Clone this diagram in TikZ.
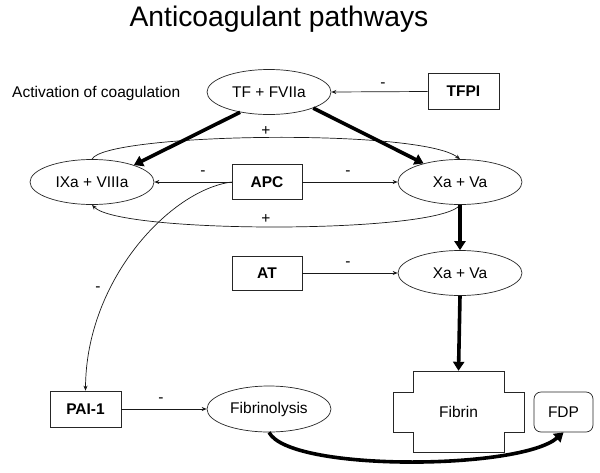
\documentclass[tikz,border=0pt]{standalone}
\usepackage{fontspec}
\setmainfont{Liberation Sans}
\usetikzlibrary{arrows.meta,shapes.geometric}
\tikzset{
  oval/.style={draw=black!85, line width=0.7pt, ellipse, minimum width=124pt, minimum height=45pt, inner sep=0pt, font=\fontsize{15.5}{18}\selectfont},
  rbox/.style={draw=black!85, line width=0.7pt, rectangle, minimum width=70pt, minimum height=35pt, inner sep=0pt, font=\fontsize{15.5}{18}\selectfont\bfseries},
  thinarr/.style={draw=black!90, line width=0.7pt, -{Stealth[length=5pt,width=4pt]}},
  thickarr/.style={draw=black, line width=3.6pt, -{Triangle[length=9pt,width=11pt]}},
  sign/.style={font=\fontsize{15.5}{18}\selectfont, inner sep=0pt},
  plain/.style={font=\fontsize{15.5}{18}\selectfont, inner sep=0pt}
}
\begin{document}
\begin{tikzpicture}[x=1pt,y=-1pt]
\useasboundingbox (0,0) rectangle (600,472);
\fill[white] (0,0) rectangle (600,472);

\node[font=\fontsize{28.3}{34}\selectfont, anchor=base, inner sep=0pt] (title) at (279,26) {Anticoagulant pathways};
\node[plain, anchor=base west] (act) at (12,97.5) {Activation of coagulation};

\node[oval] (tf) at (269,92) {TF + FVIIa};
\node[rbox, minimum width=71pt, minimum height=36pt] (tfpi) at (463.5,91.5) {TFPI};
\node[oval] (ix) at (92,182) {IXa + VIIIa};
\node[rbox] (apc) at (267,182) {APC};
\node[oval] (xa) at (460,182) {Xa + Va};
\node[rbox, minimum height=34pt] (at) at (267,273) {AT};
\node[oval] (xb) at (460,273) {Xa + Va};
\node[rbox, minimum width=71pt, minimum height=36pt] (pai) at (85.5,409) {PAI-1};
\node[oval, minimum height=46pt] (fib) at (269,409) {Fibrinolysis};
\node[draw=black!85, line width=0.7pt, rectangle, rounded corners=7pt, minimum width=59pt, minimum height=40pt, inner sep=0pt, font=\fontsize{15.5}{18}\selectfont] (fdp) at (563.5,412) {FDP};
% Fibrin cross shape
\node[minimum width=91pt, minimum height=81pt, inner sep=0pt, font=\fontsize{15.5}{18}\selectfont] (fibrin) at (458.5,411.5) {Fibrin};
\draw[black!85, line width=0.7pt] (413,371) -- (504,371) -- (504,392) -- (524,392) -- (524,432) -- (504,432) -- (504,452) -- (413,452) -- (413,432) -- (393,432) -- (393,392) -- (413,392) -- cycle;

% thin inhibitory arrows
\draw[thinarr] (tfpi.west) -- (tf.east);
\node[sign] (m1) at (383,85) {-};
\draw[thinarr] (apc.west) -- (ix.east);
\node[sign] (m2) at (203,173) {-};
\draw[thinarr] (apc.east) -- (xa.west);
\node[sign] (m3) at (348,173) {-};
\draw[thinarr] (at.east) -- (xb.west);
\node[sign] (m4) at (348,264) {-};
\draw[thinarr] (pai.east) -- (fib.west);
\node[sign] (m5) at (161,400) {-};
\draw[thinarr] (apc.west) .. controls (170,190) and (86,280) .. (pai.north);
\node[sign] (m6) at (98,289) {-};

% positive feedback arcs
\draw[thinarr] (ix.north) .. controls (105,133) and (420,128) .. (xa.north);
\node[sign] (p1) at (266,131) {+};
\draw[thinarr] (xa.south) .. controls (440,234) and (120,234) .. (ix.south);
\node[sign] (p2) at (266,219) {+};

% thick pathway arrows
\draw[thickarr] (tf.-145) -- (ix.22);
\draw[thickarr] (tf.-20) -- (xa.153);
\draw[thickarr] (xa.south) -- (xb.north);
\draw[thickarr] (xb.south) -- (fibrin.north);
\draw[thickarr] (fib.south) .. controls (290,472) and (520,470) .. (fdp.south);
\end{tikzpicture}
\end{document}
